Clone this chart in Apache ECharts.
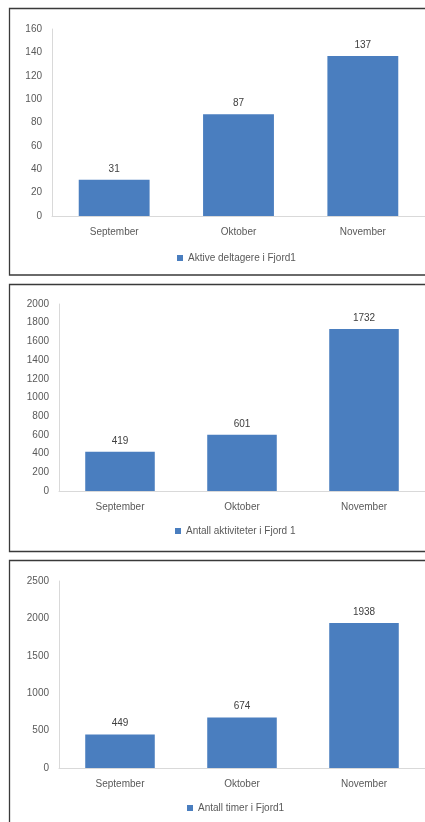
<!DOCTYPE html>
<html>
<head>
<meta charset="utf-8">
<script src="https://cdn.jsdelivr.net/npm/echarts@6/dist/echarts.min.js"></script>
<style>
  html, body { margin: 0; padding: 0; background: #fff; overflow: hidden; }
  #chart { width: 425px; height: 822px; }
</style>
</head>
<body>
<div id="chart"></div>
<script>
// Months shown on every panel
const months = ['September', 'Oktober', 'November'];

// Panel 1: active participants
const deltagere = [31, 87, 137];
const deltagereName = 'Aktive deltagere i Fjord1';
const deltagereAxis = { max: 160, interval: 20 };

// Panel 2: number of activities
const aktiviteter = [419, 601, 1732];
const aktiviteterName = 'Antall aktiviteter i Fjord 1';
const aktiviteterAxis = { max: 2000, interval: 200 };

// Panel 3: number of hours
const timer = [449, 674, 1938];
const timerName = 'Antall timer i Fjord1';
const timerAxis = { max: 2500, interval: 500 };

const BAR = '#4a7ebf';
const TEXT = '#595959';
const AXIS = '#d9d9d9';
const FONT = 'Liberation Sans';

const panels = [
  { data: deltagere, name: deltagereName, axis: deltagereAxis,
    grid: { left: 52, top: 29, width: 384, height: 187 },
    legendLeft: 172, legendTop: 248, frame: [9.5, 8.5, 430, 266.5] },
  { data: aktiviteter, name: aktiviteterName, axis: aktiviteterAxis,
    grid: { left: 59, top: 304, width: 375, height: 187 },
    legendLeft: 170, legendTop: 521, frame: [9.5, 284.5, 430, 267] },
  { data: timer, name: timerName, axis: timerAxis,
    grid: { left: 59, top: 581, width: 375, height: 187 },
    legendLeft: 182, legendTop: 798, frame: [9.5, 560.5, 430, 280] }
];

const chart = echarts.init(document.getElementById('chart'), null, { renderer: 'canvas' });

chart.setOption({
  animation: false,
  backgroundColor: '#fff',
  textStyle: { fontFamily: FONT },
  grid: panels.map(p => Object.assign({ containLabel: false }, p.grid)),
  xAxis: panels.map((p, i) => ({
    type: 'category',
    gridIndex: i,
    data: months,
    axisLine: { lineStyle: { color: AXIS, width: 1 } },
    axisTick: { show: false },
    axisLabel: { color: TEXT, fontSize: 10, margin: 11, fontFamily: FONT }
  })),
  yAxis: panels.map((p, i) => ({
    type: 'value',
    gridIndex: i,
    min: 0,
    max: p.axis.max,
    interval: p.axis.interval,
    axisLine: { show: true, lineStyle: { color: AXIS, width: 1 } },
    axisTick: { show: false },
    splitLine: { show: false },
    axisLabel: { color: TEXT, fontSize: 10, margin: 10, fontFamily: FONT,
                 formatter: v => String(v) }
  })),
  legend: panels.map(p => ({
    data: [p.name],
    left: p.legendLeft,
    top: p.legendTop,
    itemWidth: 6,
    itemHeight: 6,
    itemGap: 4,
    icon: 'rect',
    textStyle: { color: TEXT, fontSize: 10, fontFamily: FONT }
  })),
  series: panels.map((p, i) => ({
    type: 'bar',
    name: p.name,
    xAxisIndex: i,
    yAxisIndex: i,
    data: p.data,
    barCategoryGap: '43%',
    itemStyle: { color: BAR },
    label: { show: true, position: 'top', color: '#404040', fontSize: 10, distance: 6, fontFamily: FONT }
  })),
  // Panel frames
  graphic: panels.map(p => ({
    type: 'rect',
    silent: true,
    z: 100,
    shape: { x: p.frame[0], y: p.frame[1], width: p.frame[2], height: p.frame[3] },
    style: { fill: 'none', stroke: '#3a3a3a', lineWidth: 1.3 }
  }))
});
</script>
</body>
</html>
